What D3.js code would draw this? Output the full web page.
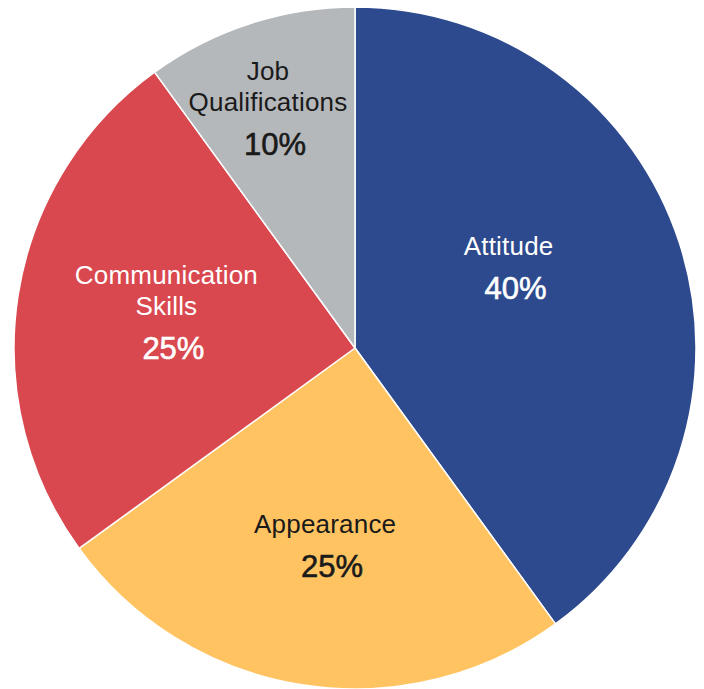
<!DOCTYPE html>
<html>
<head>
<meta charset="utf-8">
<script src="https://cdn.jsdelivr.net/npm/d3@7"></script>
<style>
  html, body { margin: 0; padding: 0; background: #fff; }
  svg text { font-family: "Liberation Sans", Arial, Helvetica, sans-serif; }
</style>
</head>
<body>
<div id="chart"></div>
<script>
// values
const categories = ['Attitude', 'Appearance', 'Communication Skills', 'Job Qualifications']
const shares = [40, 25, 25, 10]
const labelLines = [['Attitude'], ['Appearance'], ['Communication', 'Skills'], ['Job', 'Qualifications']]

const colors = ['#2d4a8e', '#ffc461', '#d9484f', '#b5b8bb']
const textColors = ['#ffffff', '#1a1a1a', '#ffffff', '#1a1a1a']

// hand nudges for label blocks, keyed by category
const nudge = {
  'Attitude': [-28, 10],
  'Appearance': [0, 40],
  'Communication Skills': [0, 41],
  'Job Qualifications': [-28, -11]
}

const width = 704
const height = 689
const cx = 355
const cy = 348
const radius = 341

const svg = d3.select('#chart')
.append('svg')
.attr('width', width)
.attr('height', height)

const g = svg.append('g')
.attr('transform', `translate(${cx},${cy})`)

const pie = d3.pie()
.sort(null)
.value(d => d.value)

const data = categories.map((c, i) => ({ name: c, value: shares[i], lines: labelLines[i], i: i }))

const arcs = pie(data)

const arc = d3.arc()
.innerRadius(0)
.outerRadius(radius)

const labelArc = d3.arc()
.innerRadius(radius * 0.56)
.outerRadius(radius * 0.56)

g.selectAll('path')
.data(arcs)
.enter()
.append('path')
.attr('d', arc)
.attr('fill', d => colors[d.data.i])
.attr('stroke', '#fff')
.attr('stroke-width', 1.5)
.attr('stroke-linejoin', 'round')

const labels = g.selectAll('.label')
.data(arcs)
.enter()
.append('g')
.attr('class', 'label')
.attr('transform', d => {
  let c = labelArc.centroid(d)
  let n = nudge[d.data.name]
  return `translate(${c[0] + n[0]},${c[1] + n[1]})`
})

labels.each(function(d) {
  const el = d3.select(this)
  const n = d.data.lines.length
  d.data.lines.forEach((line, j) => {
    el.append('text')
    .attr('text-anchor', 'middle')
    .attr('y', -44 - 31 * (n - 1 - j))
    .attr('font-size', 26)
    .attr('letter-spacing', 0.2)
    .attr('fill', textColors[d.data.i])
    .text(line)
  })
  // percentages look a touch heavier in the original
  el.append('text')
  .attr('text-anchor', 'middle')
  .attr('x', 7)
  .attr('y', 0)
  .attr('font-size', 31)
  .attr('fill', textColors[d.data.i])
  .attr('stroke', textColors[d.data.i])
  .attr('stroke-width', 0.6)
  .text(d.data.value + '%')
})
</script>
</body>
</html>
